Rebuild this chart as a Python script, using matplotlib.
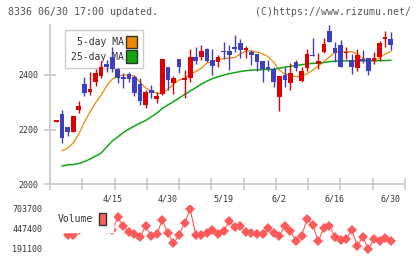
import numpy as np
import matplotlib
matplotlib.use('Agg')
from matplotlib import pyplot as plt
from matplotlib.patches import Patch

plt.rcParams['font.family'] = ['DejaVu Sans Mono']

# daily prices, 61 trading days up to 6/30
opens = [2228, 2257, 2210, 2192, 2271, 2365, 2338, 2372, 2394, 2438,
         2466, 2422, 2392, 2404, 2393, 2368, 2290, 2344, 2311, 2330,
         2429, 2371, 2457, 2381, 2389, 2466, 2466, 2494, 2454, 2448,
         2488, 2486, 2502, 2518, 2491, 2484, 2476, 2450, 2427, 2420,
         2320, 2399, 2371, 2446, 2377, 2426, 2474, 2440, 2484, 2559,
         2499, 2508, 2479, 2454, 2426, 2456, 2460, 2451, 2466, 2531, 2530]
highs = [2235, 2271, 2211, 2251, 2305, 2391, 2411, 2423, 2452, 2454,
         2500, 2424, 2405, 2411, 2399, 2387, 2344, 2362, 2338, 2458,
         2430, 2395, 2458, 2417, 2494, 2500, 2508, 2497, 2494, 2472,
         2519, 2508, 2545, 2530, 2505, 2490, 2477, 2451, 2454, 2429,
         2396, 2429, 2442, 2454, 2429, 2496, 2533, 2478, 2535, 2581,
         2519, 2527, 2501, 2476, 2494, 2490, 2462, 2482, 2523, 2560, 2556]
lows = [2227, 2152, 2177, 2192, 2259, 2322, 2328, 2360, 2390, 2410,
        2412, 2370, 2353, 2372, 2322, 2290, 2277, 2314, 2296, 2326,
        2344, 2330, 2405, 2316, 2374, 2438, 2454, 2447, 2401, 2429,
        2456, 2417, 2484, 2462, 2462, 2435, 2414, 2374, 2413, 2356,
        2269, 2356, 2344, 2413, 2373, 2415, 2468, 2421, 2478, 2519,
        2447, 2428, 2457, 2403, 2413, 2442, 2399, 2439, 2451, 2500, 2492]
closes = [2234, 2170, 2192, 2249, 2286, 2332, 2348, 2407, 2428, 2429,
          2423, 2387, 2383, 2384, 2332, 2305, 2337, 2332, 2322, 2457,
          2381, 2389, 2427, 2389, 2466, 2451, 2487, 2451, 2433, 2465,
          2482, 2473, 2495, 2490, 2497, 2473, 2447, 2421, 2420, 2372,
          2395, 2381, 2407, 2426, 2413, 2476, 2469, 2451, 2512, 2519,
          2480, 2429, 2484, 2429, 2472, 2451, 2415, 2460, 2517, 2539, 2508]

ma5 = [np.nan, 2122, 2132, 2151, 2184, 2227, 2264, 2297, 2326, 2359,
       2384, 2395, 2399, 2399, 2395, 2373, 2352, 2341, 2333, 2331,
       2348, 2366, 2381, 2386, 2406, 2411, 2424, 2443, 2448, 2456,
       2459, 2461, 2463, 2476, 2487, 2487, 2483, 2477, 2466, 2446,
       2417, 2403, 2397, 2393, 2395, 2404, 2417, 2432, 2448, 2465,
       2483, 2484, 2484, 2484, 2476, 2459, 2452, 2454, 2461, 2476, 2485]
ma25 = [np.nan, 2067, 2071, 2072, 2076, 2083, 2092, 2103, 2114, 2136,
        2158, 2173, 2189, 2202, 2213, 2224, 2233, 2246, 2260, 2277,
        2290, 2302, 2315, 2328, 2341, 2353, 2366, 2377, 2386, 2393,
        2399, 2404, 2408, 2412, 2415, 2417, 2418, 2419, 2420, 2420,
        2424, 2428, 2431, 2434, 2437, 2440, 2442, 2443, 2445, 2448,
        2450, 2451, 2451, 2451, 2451, 2451, 2451, 2451, 2452, 2452, 2453]

volumes = [537100, 485800, 375000, 375000, 434600, 537100, 460200, 588400, 511500, 447400,
           434600, 597000, 485800, 405100, 379500, 341000, 485800, 357700, 379500, 562700,
           392300, 264100, 370500, 520400, 703700, 370500, 370500, 392300, 434600, 383300,
           421800, 549900, 469200, 485800, 405100, 400000, 379500, 379500, 456400, 392300,
           361500, 485800, 421800, 297500, 357700, 575600, 498700, 293600, 456400, 489700,
           341000, 306400, 319300, 434600, 233400, 341000, 191100, 319300, 297500, 328200, 293600]

date_labels = ['4/15', '4/30', '5/19', '6/2', '6/16', '6/30']
date_pos = [10, 20, 30, 40, 50, 60]

RED = '#dd0000'
BLUE = '#3e3ec0'
GRAY = '#cccccc'
TXT = '#333333'

fig = plt.figure(figsize=(4.2, 2.59), dpi=100)
ax = fig.add_axes([50 / 420, 1 - 184.3 / 259, 355 / 420, 159.3 / 259])
axv = fig.add_axes([50 / 420, 1 - 253 / 259, 355 / 420, 48 / 259])

x = np.arange(len(opens))
o = np.array(opens)
c = np.array(closes)
up = c >= o
colors = np.where(up, RED, BLUE)

# candles (drawn above the legend like the original)
ax.vlines(x, lows, highs, colors=colors, linewidth=1.0, zorder=6)
ax.bar(x, np.abs(c - o), bottom=np.minimum(o, c), width=0.84,
       color=colors, linewidth=0, zorder=6)

# moving averages
ax.plot(x, ma5, color='#ee8800', linewidth=0.9, zorder=3)
ax.plot(x, ma25, color='#12a612', linewidth=1.1, zorder=3)

xmin, xmax = -1.17, 62.57
ax.set_xlim(xmin, xmax)
ax.set_ylim(2000, 2582)
for s in ['top', 'right']:
    ax.spines[s].set_visible(False)
for s in ['left', 'bottom']:
    ax.spines[s].set_color(GRAY)
    ax.spines[s].set_linewidth(1.3)

ax.set_yticks([2000, 2200, 2400])
ax.set_yticklabels(['2000', '2200', '2400'])
ax.tick_params(axis='y', direction='inout', length=8, width=1.3, color=GRAY,
               labelsize=6, labelcolor=TXT, pad=4.5)
ax.set_xticks(np.linspace(xmin, xmax, 12))
ax.set_xticklabels([])
ax.tick_params(axis='x', which='major', direction='inout', length=8, width=1.3, color=GRAY)
ax.set_xticks(date_pos, minor=True)
ax.set_xticklabels(date_labels, minor=True)
ax.tick_params(axis='x', which='minor', length=0, labelsize=6, labelcolor=TXT, pad=7)

leg = ax.legend([Patch(facecolor='#ee8800', edgecolor='#333333'),
                 Patch(facecolor='#12a612', edgecolor='#333333')],
                ['5-day MA', '25-day MA'],
                loc='upper left', bbox_to_anchor=(65 / 420, 1 - 30 / 259),
                bbox_transform=fig.transFigure, borderaxespad=0,
                fontsize=7, markerfirst=False, fancybox=False,
                handlelength=1.15, handleheight=1.55, handletextpad=0.25,
                labelspacing=0.25, borderpad=0.6, framealpha=1,
                edgecolor=GRAY, facecolor='white')
leg.get_frame().set_linewidth(1.0)
for t in leg.get_texts():
    t.set_color(TXT)
leg.set_zorder(5)

# volume
axv.plot(x, volumes, color='#ff5a5a', linewidth=0.8, marker='D', markersize=5.5,
         markeredgewidth=0, zorder=2)
axv.set_xlim(xmin, xmax)
axv.set_ylim(139840, 754960)
for s in axv.spines.values():
    s.set_visible(False)
axv.set_xticks([])
axv.set_yticks([191100, 447400, 703700])
axv.set_yticklabels(['191100', '447400', '703700'])
axv.tick_params(axis='y', length=0, labelsize=6, labelcolor=TXT, pad=5.5)

legv = axv.legend([Patch(facecolor='#ff6060', edgecolor='#333333')], ['Volume'],
                  loc='upper left', bbox_to_anchor=(50 / 420, 1 - 205.5 / 259),
                  bbox_transform=fig.transFigure, borderaxespad=0,
                  fontsize=7, markerfirst=False, fancybox=False,
                  handlelength=0.7, handleheight=1.55, handletextpad=0.7,
                  borderpad=0.75, framealpha=1, edgecolor='white', facecolor='white')
for t in legv.get_texts():
    t.set_color(TXT)

fig.text(8 / 420, 1 - 12 / 259, '8336 06/30 17:00 updated.', fontsize=7.2,
         color='#555555', va='center', ha='left')
fig.text(411 / 420, 1 - 12 / 259, '(C)https://www.rizumu.net/', fontsize=7.1,
         color='#555555', va='center', ha='right')

plt.savefig('out.png', dpi=100)
